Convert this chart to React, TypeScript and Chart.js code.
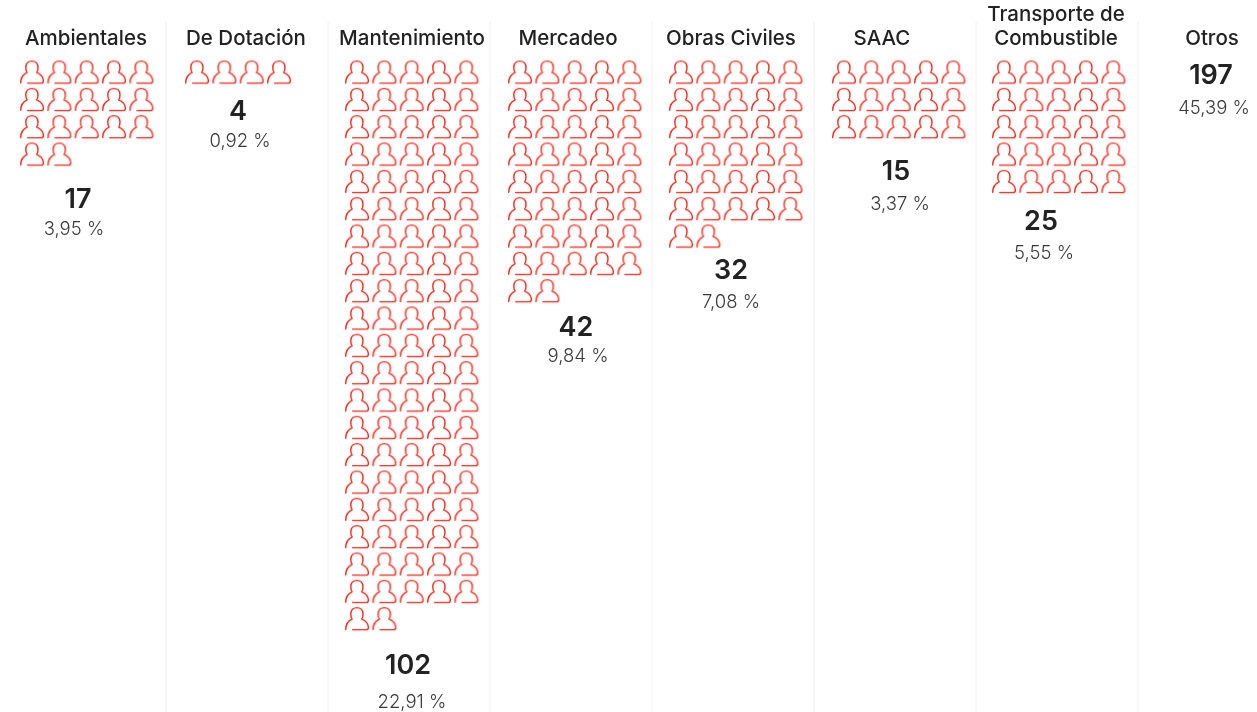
import React, { useEffect, useRef } from "react";
import { Chart, registerables } from "chart.js";

Chart.register(...registerables);

const categories = ["Ambientales", "De Dotación", "Mantenimiento", "Mercadeo", "Obras Civiles", "SAAC", "Transporte de\nCombustible", "Otros"];
const counts = [17, 4, 102, 42, 32, 15, 25, 197];
const percents = ["3,95 %", "0,92 %", "22,91 %", "9,84 %", "7,08 %", "3,37 %", "5,55 %", "45,39 %"];
const drawsIcons = [true, true, true, true, true, true, true, false];

// layout (page pixels, used as axis units)
const W = 1257, H = 712;
const iconStartX = [32, 197, 357, 520, 681, 844, 1004, 0];
const titleX = [86, 246, 412, 568, 731, 882, 1056, 1212];
const numberX = [78, 238, 408, 576, 731, 896, 1041, 1211];
const percentX = [74, 240, 412, 578, 731, 900, 1044, 1214];
const numberY = [200, 112, 666, 328, 271, 172, 222, 76];
const percentY = [229, 141, 702, 356, 302, 204, 253, 108];
const separators = [166, 328, 490, 652, 814, 976, 1138];
const PITCH = 27.33, ICON_Y0 = 72.5, SEP_TOP = 22, PER_ROW = 5;

function makeIcon() {
  const size = 26;
  const c = document.createElement("canvas");
  c.width = c.height = size;
  const g = c.getContext("2d")!;
  g.strokeStyle = "#ff2417";
  g.lineWidth = 1.4;
  g.lineCap = "round";
  g.lineJoin = "round";
  g.beginPath();
  g.moveTo(1.7, 23.4);
  g.bezierCurveTo(1.7, 18.2, 4.2, 14.8, 8.2, 12.9);
  g.bezierCurveTo(7.1, 11.6, 6.7, 9.6, 6.8, 7.6);
  g.bezierCurveTo(7, 3.9, 9.4, 1.6, 12.9, 1.6);
  g.bezierCurveTo(16.4, 1.6, 18.8, 3.9, 19, 7.6);
  g.bezierCurveTo(19.1, 9.6, 18.7, 11.6, 17.6, 12.9);
  g.bezierCurveTo(21.6, 14.8, 24.3, 17.6, 24.4, 21);
  g.bezierCurveTo(24.5, 22.8, 23.6, 23.6, 22.2, 23.6);
  g.lineTo(8.6, 23.6);
  g.stroke();
  return c;
}

const iconPoints = (k: number) =>
  Array.from({ length: drawsIcons[k] ? counts[k] : 0 }, (_, i) => ({
    x: iconStartX[k] + (i % PER_ROW) * PITCH,
    y: ICON_Y0 + Math.floor(i / PER_ROW) * PITCH,
  }));

const textPlugin = {
  id: "columnText",
  afterDatasetsDraw(chart: any) {
    const { ctx, scales } = chart;
    const X = scales.x, Y = scales.y;
    ctx.save();
    ctx.textAlign = "center";
    ctx.textBaseline = "middle";
    categories.forEach((name, k) => {
      const lines = name.split("\n");
      ctx.fillStyle = "#222";
      ctx.font = '500 20.5px Inter';
      lines.forEach((line, j) => {
        const y = lines.length === 1 ? 38.5 : 14.5 + j * 24;
        ctx.fillText(line, X.getPixelForValue(titleX[k]), Y.getPixelForValue(y));
      });
      ctx.font = '600 27px Inter';
      ctx.fillText(String(counts[k]), X.getPixelForValue(numberX[k]), Y.getPixelForValue(numberY[k]));
      ctx.fillStyle = "#3a3a3a";
      ctx.font = '300 18.5px Inter';
      ctx.fillText(percents[k], X.getPixelForValue(percentX[k]), Y.getPixelForValue(percentY[k]));
    });
    ctx.restore();
  },
};

export default function App() {
  const ref = useRef<HTMLCanvasElement>(null);
  useEffect(() => {
    document.body.style.margin = "0";
    const icon = makeIcon();
    const chart = new Chart(ref.current!, {
      type: "scatter",
      data: {
        datasets: [
          ...separators.map((x) => ({
            data: [{ x, y: SEP_TOP }, { x, y: H }],
            showLine: true,
            borderColor: "#f6f6f6",
            borderWidth: 1,
            pointRadius: 0,
          })),
          ...categories.map((label, k) => ({
            label,
            data: iconPoints(k),
            pointStyle: icon,
            pointRadius: 13,
          })),
        ],
      } as any,
      options: {
        responsive: false,
        animation: false,
        layout: { padding: 0, autoPadding: false },
        plugins: { legend: { display: false }, tooltip: { enabled: false }, title: { display: false } },
        scales: {
          x: { type: "linear", min: 0, max: W, display: false },
          y: { type: "linear", min: 0, max: H, reverse: true, display: false },
        },
      },
      plugins: [textPlugin],
    });
    return () => chart.destroy();
  }, []);
  return <canvas ref={ref} width={W} height={H} style={{ display: "block", width: W, height: H }} />;
}
